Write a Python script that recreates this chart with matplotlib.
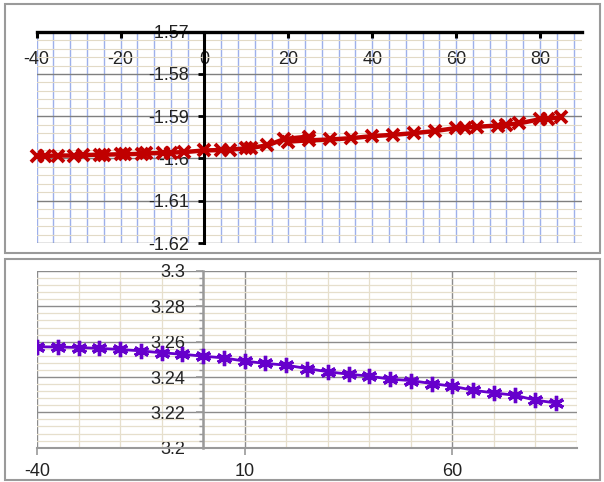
import matplotlib
matplotlib.use('Agg')
import matplotlib.pyplot as plt
from matplotlib.ticker import MultipleLocator, FixedLocator, FuncFormatter
from matplotlib.patches import Rectangle

plt.rcParams['font.family'] = ['Liberation Sans', 'DejaVu Sans']
plt.rcParams['axes.unicode_minus'] = False

# upper chart (red), goes up to 25, steps back, then on to 85
top_x = [-40, -38, -35, -31, -29, -25, -24, -20, -19, -15, -14, -10, -8, -5,
         0, 4, 6, 10, 11, 15, 19, 25, 20, 25, 30, 35, 40, 45, 50, 55, 60, 62,
         65, 70, 72, 75, 80, 82, 85]
top_y = [-1.5994, -1.5994, -1.5993, -1.5993, -1.5992, -1.5991, -1.5991,
         -1.5990, -1.5990, -1.5989, -1.5988, -1.5987, -1.5986, -1.5985,
         -1.5981, -1.5980, -1.5979, -1.5976, -1.5975, -1.5969, -1.5954,
         -1.5948, -1.5960, -1.5957, -1.5955, -1.5952, -1.5947, -1.5944,
         -1.5940, -1.5935, -1.5928, -1.5927, -1.5925, -1.5922, -1.5920,
         -1.5917, -1.5907, -1.5906, -1.5902]
top_xticks = [-40, -20, 0, 20, 40, 60, 80]

# lower chart (purple)
bot_x = [-40, -35, -30, -25, -20, -15, -10, -5, 0, 5, 10, 15, 20, 25, 30,
         35, 40, 45, 50, 55, 60, 65, 70, 75, 80, 85]
bot_y = [3.2571, 3.2570, 3.2567, 3.2562, 3.2556, 3.2548, 3.2537, 3.2529,
         3.2518, 3.2508, 3.2490, 3.2477, 3.2467, 3.2448, 3.2430, 3.2416,
         3.2405, 3.2388, 3.2380, 3.2363, 3.2348, 3.2325, 3.2310, 3.2297,
         3.2269, 3.2253]
bot_xticks = [-40, 10, 60]

W, H = 604, 482
fig = plt.figure(figsize=(W / 100, H / 100), dpi=100)

def fr(x0, y0, x1, y1):
    # pixel box -> figure fraction rect
    return [x0 / W, 1 - y1 / H, (x1 - x0) / W, (y1 - y0) / H]

# outer frames of the two charts
for box in [(5, 4, 600, 253), (5, 259, 600, 480)]:
    x0, y0, x1, y1 = box
    fig.patches.append(Rectangle((x0 / W, 1 - y1 / H), (x1 - x0) / W,
                                 (y1 - y0) / H, transform=fig.transFigure,
                                 fill=False, ec='#9a9a9a', lw=1.5))

fmt = FuncFormatter(lambda v, p: '%g' % round(v, 4))
FS = 13

# ---- top chart
ax = fig.add_axes(fr(36.7, 31.7, 582, 243))
ax.plot(top_x, top_y, color='#C00000', lw=3.2, marker='x', ms=8, mew=2.8,
        zorder=4, clip_on=False)
ax.set_xlim(-40, 90)
ax.set_ylim(-1.62, -1.57)
ax.xaxis.set_major_locator(FixedLocator(top_xticks))
ax.xaxis.set_minor_locator(MultipleLocator(4))
ax.yaxis.set_major_locator(MultipleLocator(0.01))
ax.yaxis.set_minor_locator(MultipleLocator(0.002))
ax.yaxis.set_major_formatter(fmt)
ax.xaxis.set_major_formatter(fmt)
ax.set_axisbelow(True)
ax.grid(True, axis='x', which='both', color='#9eb0ea', lw=1.0)
ax.grid(True, axis='y', which='minor', color='#e2dac6', lw=0.8)
ax.grid(True, axis='y', which='major', color='#7f7f7f', lw=1.0)
for s in ['bottom', 'right']:
    ax.spines[s].set_visible(False)
ax.spines['left'].set_position(('data', 0))
ax.spines['left'].set_linewidth(2.2)
ax.spines['top'].set_linewidth(2.4)
ax.tick_params(axis='x', which='major', top=True, bottom=False, labeltop=True,
               labelbottom=False, direction='in', length=4, width=2.2,
               pad=-26, labelsize=FS, labelcolor='#222222')
ax.tick_params(axis='y', which='major', direction='out', length=4, width=2,
               pad=7, labelsize=FS, labelcolor='#222222')
ax.tick_params(which='minor', length=0)

# ---- bottom chart
bx = fig.add_axes(fr(37, 271, 577, 447.7))
bx.plot(bot_x, bot_y, color='#6600CC', lw=2.0, marker=(6, 2, 0), ms=11,
        mew=2.4, zorder=4)
bx.set_xlim(-40, 90)
bx.set_ylim(3.2, 3.3)
bx.xaxis.set_major_locator(FixedLocator(bot_xticks))
bx.xaxis.set_minor_locator(MultipleLocator(10))
bx.yaxis.set_major_locator(MultipleLocator(0.02))
bx.yaxis.set_minor_locator(MultipleLocator(0.004))
bx.yaxis.set_major_formatter(fmt)
bx.xaxis.set_major_formatter(fmt)
bx.set_axisbelow(True)
bx.grid(True, which='minor', color='#e6dfcc', lw=0.9)
bx.grid(True, which='major', color='#8c8c8c', lw=1.0)
for s in ['top', 'right']:
    bx.spines[s].set_visible(False)
bx.spines['left'].set_position(('data', 0))
bx.spines['left'].set_color('#999999')
bx.spines['left'].set_linewidth(1.8)
bx.spines['bottom'].set_color('#999999')
bx.spines['bottom'].set_linewidth(1.5)
bx.tick_params(axis='both', which='major', direction='out', length=5,
               width=1.2, color='#999999', labelsize=FS, labelcolor='#222222')
bx.tick_params(axis='y', which='major', pad=8)
bx.tick_params(axis='x', which='major', pad=6)
bx.tick_params(axis='y', which='minor', direction='out', length=3, width=1,
               color='#999999')
bx.tick_params(axis='x', which='minor', length=0)

fig.savefig('out.png', dpi=100)
